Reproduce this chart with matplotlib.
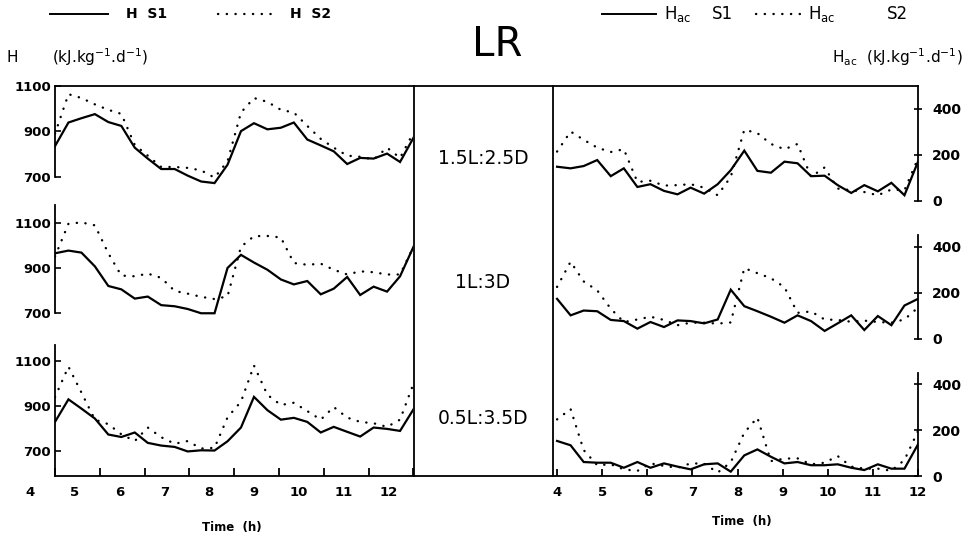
import matplotlib
matplotlib.use("Agg")
import matplotlib.pyplot as plt
from matplotlib.transforms import ScaledTranslation

plt.rcParams['font.family'] = ['DejaVu Sans']
plt.rcParams['mathtext.default'] = 'regular'

# ---------------- data ----------------
TIME = [4.00, 4.30, 4.59, 4.89, 5.19, 5.48, 5.78, 6.07, 6.37, 6.67, 6.96, 7.26, 7.56, 7.85,
        8.15, 8.44, 8.74, 9.04, 9.33, 9.63, 9.93, 10.22, 10.52, 10.81, 11.11, 11.41, 11.70, 12.00]

PHOTOPERIODS = ["1.5L:2.5D", "1L:3D", "0.5L:3.5D"]

# H (kJ.kg-1.d-1)
H_S1_15 = [835, 939, 958, 976, 941, 924, 828, 780, 734, 734, 705, 679, 672, 753,
           901, 936, 909, 916, 939, 864, 838, 812, 756, 783, 780, 802, 765, 872]
H_S2_15 = [890, 1064, 1047, 1019, 995, 977, 840, 793, 743, 743, 739, 728, 696, 768,
           983, 1047, 1030, 995, 983, 924, 867, 828, 793, 788, 776, 828, 783, 895]
H_S1_10 = [966, 978, 969, 908, 821, 806, 765, 774, 736, 731, 719, 700, 700, 901,
           959, 925, 893, 850, 828, 843, 784, 809, 861, 781, 818, 796, 864, 995]
H_S2_10 = [952, 1097, 1103, 1090, 966, 867, 864, 876, 857, 799, 787, 773, 763, 775,
           995, 1042, 1043, 1036, 923, 915, 920, 893, 872, 886, 882, 872, 872, 995]
H_S1_05 = [830, 930, 889, 845, 774, 763, 783, 737, 725, 719, 699, 704, 703, 744,
           805, 941, 882, 840, 848, 830, 783, 808, 786, 765, 805, 799, 790, 886]
H_S2_05 = [940, 1075, 960, 840, 820, 775, 745, 805, 762, 733, 745, 712, 715, 850,
           920, 1080, 950, 905, 915, 878, 840, 896, 849, 830, 824, 808, 840, 1000]

# Hac (kJ.kg-1.d-1)
HAC_S1_15 = [149, 142, 152, 178, 108, 142, 61, 73, 44, 29, 58, 32, 73, 134,
             219, 131, 123, 171, 164, 108, 110, 69, 35, 69, 42, 79, 25, 171]
HAC_S2_15 = [215, 302, 266, 232, 213, 225, 83, 88, 67, 69, 73, 58, 25, 105,
             310, 295, 248, 225, 248, 105, 146, 54, 47, 39, 25, 50, 47, 185]
HAC_S1_10 = [173, 101, 122, 119, 81, 76, 43, 72, 50, 79, 76, 66, 83, 213,
             141, 119, 95, 69, 101, 76, 33, 66, 101, 37, 98, 58, 144, 173]
HAC_S2_10 = [225, 335, 249, 210, 130, 72, 83, 95, 81, 58, 69, 69, 65, 70,
             307, 285, 263, 224, 112, 118, 83, 81, 73, 78, 72, 69, 83, 135]
HAC_S1_05 = [153, 134, 61, 58, 58, 36, 61, 36, 55, 41, 29, 51, 55, 19,
             90, 116, 84, 55, 61, 47, 47, 51, 36, 26, 51, 32, 32, 138]
HAC_S2_05 = [247, 292, 113, 47, 51, 29, 22, 55, 44, 36, 55, 54, 15, 60,
             189, 255, 65, 76, 77, 51, 58, 87, 41, 32, 32, 23, 70, 196]

LEFT_S1 = [H_S1_15, H_S1_10, H_S1_05]
LEFT_S2 = [H_S2_15, H_S2_10, H_S2_05]
RIGHT_S1 = [HAC_S1_15, HAC_S1_10, HAC_S1_05]
RIGHT_S2 = [HAC_S2_15, HAC_S2_10, HAC_S2_05]

XTICKS = [4, 5, 6, 7, 8, 9, 10, 11, 12]
XTICKLABELS = ["4", "5", "6", "7", "8", "9", "10", "11", "12"]
LEFT_YTICKS = [700, 900, 1100]
RIGHT_YTICKS = [0, 200, 400]

# ---------------- layout ----------------
W, H = 965, 545
fig = plt.figure(figsize=(W / 100, H / 100), dpi=100)
fig.patch.set_facecolor('white')


def add_ax(x0, y0, x1, y1):
    return fig.add_axes([x0 / W, 1 - y1 / H, (x1 - x0) / W, (y1 - y0) / H])


ROWS = [(86, 201), (201, 338.5), (338.5, 476)]
LEFT_YLIM = [(593, 1100), (588, 1198), (590, 1200)]
LEFT_SPINE = [(700, 1100), (700, 1180), (590, 1172)]
RIGHT_YLIM = [(0, 500), (0, 600), (0, 600)]
RIGHT_SPINE = [(0, 500), (0, 450), (0, 450)]

LX0, LX1 = 55, 413.5
RX0, RX1 = 553, 918

solid_kw = dict(color='black', lw=1.6, solid_joinstyle='miter')
dot_kw = dict(color='black', lw=1.7, linestyle=(0, (0.1, 3.6)), dash_capstyle='round')

bold9 = dict(fontsize=9.5, fontweight='bold')

for i, (y0, y1) in enumerate(ROWS):
    # ---- left panel (H) ----
    ax = add_ax(LX0, y0, LX1, y1)
    ax.set_facecolor('none')
    ax.plot(TIME, LEFT_S1[i], **solid_kw)
    ax.plot(TIME, LEFT_S2[i], **dot_kw)
    ax.set_xlim(4, 12)
    ax.set_ylim(*LEFT_YLIM[i])
    for s in ['top', 'right', 'bottom']:
        ax.spines[s].set_visible(False)
    ax.spines['left'].set_bounds(*LEFT_SPINE[i])
    ax.spines['left'].set_linewidth(1.3)
    ax.set_yticks(LEFT_YTICKS)
    ax.set_yticklabels([str(v) for v in LEFT_YTICKS], **bold9)
    ax.tick_params(axis='y', direction='in', length=4, width=1.2, pad=3)
    if i == 2:
        ax.set_xticks(XTICKS)
        ax.set_xticklabels(XTICKLABELS, **bold9)
        ax.tick_params(axis='x', direction='in', length=6, width=1.3, pad=7)
        for lab in ax.get_xticklabels():
            lab.set_transform(lab.get_transform() + ScaledTranslation(-0.25, 0, fig.dpi_scale_trans))
    else:
        ax.set_xticks([])

    # ---- right panel (Hac) ----
    ar = add_ax(RX0, y0, RX1, y1)
    ar.set_facecolor('none')
    ar.plot(TIME, RIGHT_S1[i], **solid_kw)
    ar.plot(TIME, RIGHT_S2[i], **dot_kw)
    ar.set_xlim(3.91, 12)
    ar.set_ylim(*RIGHT_YLIM[i])
    for s in ['top', 'left', 'bottom']:
        ar.spines[s].set_visible(False)
    ar.spines['right'].set_bounds(*RIGHT_SPINE[i])
    ar.spines['right'].set_linewidth(1.3)
    ar.yaxis.tick_right()
    ar.set_yticks(RIGHT_YTICKS)
    ar.set_yticklabels([str(v) for v in RIGHT_YTICKS], fontsize=10, fontweight='bold')
    ar.tick_params(axis='y', direction='inout', length=6, width=1.2, pad=7)
    if i == 2:
        ar.set_xticks(XTICKS)
        ar.set_xticklabels(XTICKLABELS, **bold9)
        ar.tick_params(axis='x', direction='in', length=5, width=1.3, pad=7)
    else:
        ar.set_xticks([])

# ---------------- frame, legend and texts (pixel coordinates) ----------------
bg = fig.add_axes([0, 0, 1, 1])
bg.set_xlim(0, W)
bg.set_ylim(H, 0)
bg.axis('off')
bg.patch.set_visible(False)

frame_kw = dict(color='black', lw=1.3, solid_capstyle='projecting')
bg.plot([LX0, RX1], [86, 86], **frame_kw)
bg.plot([LX0, RX1], [476, 476], **frame_kw)
bg.plot([414, 414], [86, 476], **frame_kw)
bg.plot([553, 553], [86, 476], **frame_kw)

for lab, yy in zip(PHOTOPERIODS, [158, 283, 419]):
    bg.text(483, yy, lab, fontsize=13.5, ha='center', va='center')

bg.text(497, 45, "LR", fontsize=29, ha='center', va='center')

# left legend
bg.plot([50, 108], [14, 14], color='black', lw=1.4)
bg.text(126, 14, "H  S1", fontsize=10, fontweight='bold', ha='left', va='center')
bg.plot([218, 272], [14, 14], **dot_kw)
bg.text(290, 14, "H  S2", fontsize=10, fontweight='bold', ha='left', va='center')

# right legend
bg.plot([602, 656], [14, 14], color='black', lw=1.4)
bg.text(664, 14, r"H$_{ac}$", fontsize=12, ha='left', va='center')
bg.text(712, 14, "S1", fontsize=12, ha='left', va='center')
bg.plot([756, 800], [14, 14], **dot_kw)
bg.text(808, 14, r"H$_{ac}$", fontsize=12, ha='left', va='center')
bg.text(887, 14, "S2", fontsize=12, ha='left', va='center')

# axis units
bg.text(7, 57, "H", fontsize=11, ha='left', va='center')
bg.text(52, 57, r"(kJ.kg$^{-1}$.d$^{-1}$)", fontsize=11, ha='left', va='center')
bg.text(963, 57, r"H$_{ac}$  (kJ.kg$^{-1}$.d$^{-1}$)", fontsize=11, ha='right', va='center')

# x titles
bg.text(232, 527, "Time  (h)", fontsize=8.5, fontweight='bold', ha='center', va='center')
bg.text(742, 521, "Time  (h)", fontsize=8.5, fontweight='bold', ha='center', va='center')

fig.savefig("out.png", dpi=100, facecolor='white')
